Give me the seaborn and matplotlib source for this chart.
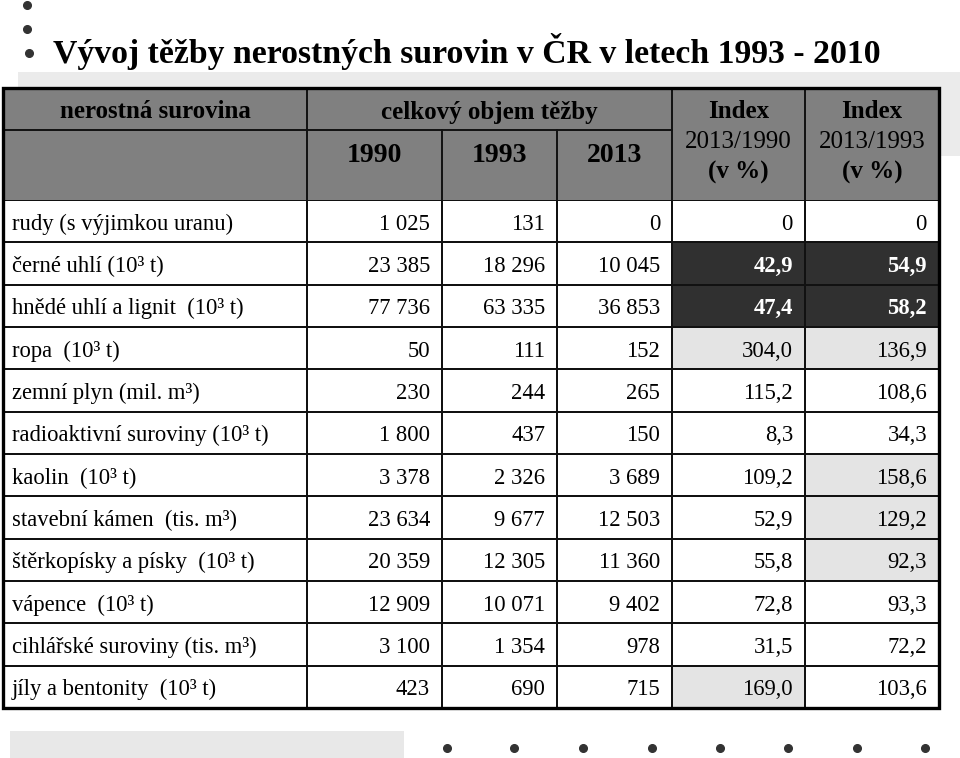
import numpy as np
import matplotlib
matplotlib.use("Agg")
import matplotlib.pyplot as plt
import matplotlib.transforms as mtransforms
from matplotlib.colors import ListedColormap
from matplotlib.patches import Rectangle
import seaborn as sns

sns.set_theme(style="white")
plt.rcParams['font.family'] = ['Liberation Serif', 'DejaVu Serif']
plt.rcParams['text.color'] = 'black'

# ---------------- data ----------------
title = "Vývoj těžby nerostných surovin v ČR v letech 1993 - 2010"
materials = [
    "rudy (s výjimkou uranu)",
    "černé uhlí (10³ t)",
    "hnědé uhlí a lignit  (10³ t)",
    "ropa  (10³ t)",
    "zemní plyn (mil. m³)",
    "radioaktivní suroviny (10³ t)",
    "kaolin  (10³ t)",
    "stavební kámen  (tis. m³)",
    "štěrkopísky a písky  (10³ t)",
    "vápence  (10³ t)",
    "cihlářské suroviny (tis. m³)",
    "jíly a bentonity  (10³ t)",
]
v1990 = [1025, 23385, 77736, 50, 230, 1800, 3378, 23634, 20359, 12909, 3100, 423]
v1993 = [131, 18296, 63335, 111, 244, 437, 2326, 9677, 12305, 10071, 1354, 690]
v2013 = [0, 10045, 36853, 152, 265, 150, 3689, 12503, 11360, 9402, 978, 715]
idx_2013_1990 = [0, 42.9, 47.4, 304.0, 115.2, 8.3, 109.2, 52.9, 55.8, 72.8, 31.5, 169.0]
idx_2013_1993 = [0, 54.9, 58.2, 136.9, 108.6, 34.3, 158.6, 129.2, 92.3, 93.3, 72.2, 103.6]
# cell highlight: 0 = white, 1 = light grey, 2 = dark
hl_2013_1990 = [0, 2, 2, 1, 0, 0, 0, 0, 0, 0, 0, 1]
hl_2013_1993 = [0, 2, 2, 1, 0, 0, 1, 1, 1, 0, 0, 0]
years = ["1990", "1993", "2013"]
idx_heads = ["2013/1990", "2013/1993"]

# ---------------- helpers ----------------
def fmt_int(v):
    return f"{v:,}".replace(",", " ")

def fmt_idx(v):
    if v == 0:
        return "0"
    return f"{v:.1f}".replace(".", ",")

W, H = 960, 758
fig = plt.figure(figsize=(W / 100, H / 100), dpi=100)
fig.patch.set_facecolor("white")

def fax(x0, y0, x1, y1):
    return [x0 / W, 1 - y1 / H, (x1 - x0) / W, (y1 - y0) / H]

# background axes in pixel coordinates
bg = fig.add_axes([0, 0, 1, 1], zorder=0)
bg.set_xlim(0, W)
bg.set_ylim(H, 0)
bg.axis("off")

# decorative shadows
bg.add_patch(Rectangle((18, 72), 942, 84, facecolor="#ebebeb", edgecolor="none"))
bg.add_patch(Rectangle((10, 731), 394, 27, facecolor="#e8e8e8", edgecolor="none"))

# bullets
bg.plot([27, 27, 29], [5, 29, 53], "o", color="#333333", markersize=5.5)
bg.plot([447, 514, 583, 652, 720, 788, 857, 925], [748] * 8, "o",
        color="#333333", markersize=5.5)

# title
bg.text(53, 63, title, fontsize=24.3, fontweight="bold", color="black",
        ha="left", va="baseline")

# table geometry
cols = [3, 307, 442, 557, 672, 805, 939]
top, hmid, hbot, bottom = 88, 130, 200, 708
lc = "#111111"
lw = 1.4

# header
bg.add_patch(Rectangle((cols[0], top), cols[-1] - cols[0], hbot - top,
                       facecolor="#808080", edgecolor="none"))
bg.plot([cols[0], cols[4]], [hmid, hmid], color=lc, lw=lw)
for x in [cols[1], cols[4], cols[5]]:
    bg.plot([x, x], [top, hbot], color=lc, lw=lw)
for x in [cols[2], cols[3]]:
    bg.plot([x, x], [hmid, hbot], color=lc, lw=lw)

hfs = 18
bg.text((cols[0] + cols[1]) / 2, 112, "nerostná surovina", fontsize=hfs,
        fontweight="bold", ha="center", va="center")
bg.text((cols[1] + cols[4]) / 2, 112, "celkový objem těžby", fontsize=hfs,
        fontweight="bold", ha="center", va="center")
for j, yr in enumerate(years):
    bg.text((cols[1 + j] + cols[2 + j]) / 2, 155, yr, fontsize=20,
            fontweight="bold", ha="center", va="center")
for j, hd in enumerate(idx_heads):
    xc = (cols[4 + j] + cols[5 + j]) / 2
    bg.text(xc, 112, "Index", fontsize=hfs, fontweight="bold", ha="center", va="center")
    bg.text(xc, 142, hd, fontsize=hfs, ha="center", va="center")
    bg.text(xc, 172, "(v %)", fontsize=hfs, fontweight="bold", ha="center", va="center")

# body via seaborn heatmaps, one axes per column
n = len(materials)
shade = np.zeros((n, 6))
shade[:, 4] = hl_2013_1990
shade[:, 5] = hl_2013_1993
cmap = ListedColormap(["#ffffff", "#e4e4e4", "#303030"])

texts = [
    materials,
    [fmt_int(v) for v in v1990],
    [fmt_int(v) for v in v1993],
    [fmt_int(v) for v in v2013],
    [fmt_idx(v) for v in idx_2013_1990],
    [fmt_idx(v) for v in idx_2013_1993],
]

for j in range(6):
    ax = fig.add_axes(fax(cols[j], hbot, cols[j + 1], bottom), zorder=1)
    sns.heatmap(shade[:, j:j + 1], ax=ax, cmap=cmap, vmin=0, vmax=2, cbar=False,
                linewidths=lw, linecolor=lc, xticklabels=False, yticklabels=False)
    ax.set_xticks([])
    ax.set_yticks([])
    wpx = cols[j + 1] - cols[j]
    tr = mtransforms.blended_transform_factory(ax.transAxes, ax.transData)
    for i in range(n):
        s = texts[j][i]
        dark = shade[i, j] == 2
        color = "white" if dark else "black"
        weight = "bold" if dark else "normal"
        if j == 0:
            ax.text(9 / wpx, i + 0.5 + 0.2, s, transform=tr, ha="left",
                    va="baseline", fontsize=16.3, color=color)
        else:
            ax.text(1 - 12 / wpx, i + 0.5 + 0.2, s, transform=tr, ha="right",
                    va="baseline", fontsize=16.3, color=color, fontweight=weight)

# outer frame on top
fg = fig.add_axes([0, 0, 1, 1], zorder=5)
fg.set_xlim(0, W)
fg.set_ylim(H, 0)
fg.axis("off")
fg.patch.set_alpha(0)
fg.add_patch(Rectangle((cols[0], top), cols[-1] - cols[0], bottom - top,
                       facecolor="none", edgecolor="#000000", lw=2.4))

fig.savefig("out.png", dpi=100)
